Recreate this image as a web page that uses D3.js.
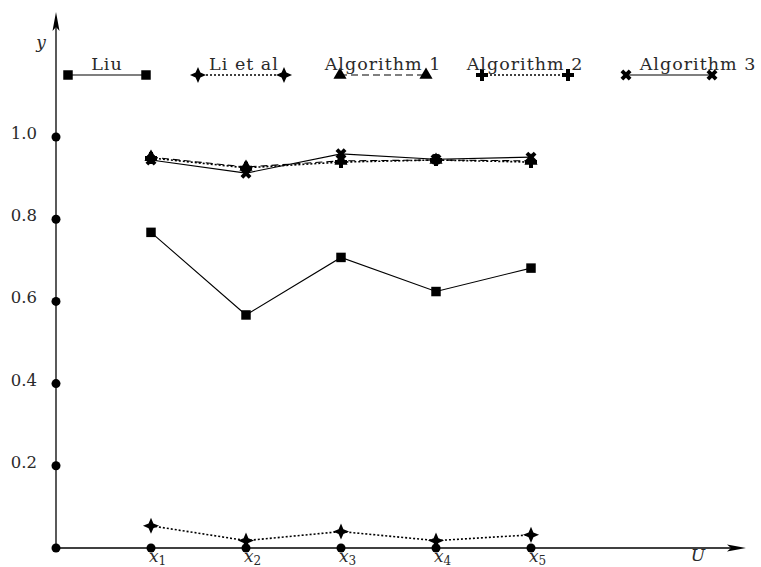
<!DOCTYPE html>
<html>
<head>
<meta charset="utf-8">
<script src="https://cdn.jsdelivr.net/npm/d3@7"></script>
<style>
  html, body { margin: 0; padding: 0; background: #fff; }
  svg { display: block; }
  text { font-family: "DejaVu Serif", "Liberation Serif", serif; fill: #2a2a2a; }
</style>
</head>
<body>
<svg id="chart" width="761" height="567"></svg>
<script>
// Series and labels
const categories = ["1", "2", "3", "4", "5"];          // subscripts of x_i
const yTickValues = [0.2, 0.4, 0.6, 0.8, 1.0];
const yTickLabels = ["0.2", "0.4", "0.6", "0.8", "1.0"];
const seriesNames = ["Liu", "Li et al", "Algorithm 1", "Algorithm 2", "Algorithm 3"];
const liu   = [0.768, 0.567, 0.707, 0.624, 0.681];
const liEtAl = [0.054, 0.018, 0.040, 0.018, 0.032];
const alg1  = [0.951, 0.927, 0.942, 0.944, 0.942];
const alg2  = [0.949, 0.925, 0.939, 0.944, 0.939];
const alg3  = [0.944, 0.912, 0.959, 0.946, 0.951];

const svg = d3.select("#chart");

const x = d3.scaleLinear().domain([0, 5]).range([56, 531]);
const y = d3.scaleLinear().domain([0, 1]).range([548, 137]);

// Four-pointed star
const star4 = {
  draw(ctx, size) {
    const r = Math.sqrt(size) * 0.75, q = r * 0.3;
    ctx.moveTo(0, -r);
    ctx.lineTo(q, -q); ctx.lineTo(r, 0); ctx.lineTo(q, q);
    ctx.lineTo(0, r); ctx.lineTo(-q, q); ctx.lineTo(-r, 0); ctx.lineTo(-q, -q);
    ctx.closePath();
  }
};

const styles = [
  { values: liu,    symbol: d3.symbolSquare,   size: 90,  rotate: 0,  dash: null,  },
  { values: liEtAl, symbol: star4,             size: 115, rotate: 0,  dash: "2,2" },
  { values: alg1,   symbol: d3.symbolTriangle, size: 75,  rotate: 0,  dash: "7,4" },
  { values: alg2,   symbol: d3.symbolCross,    size: 80,  rotate: 0,  dash: "2,2" },
  { values: alg3,   symbol: d3.symbolCross,    size: 75,  rotate: 45, dash: null  }
];

// Axes with arrowheads
const axisG = svg.append("g");
axisG.append("line").attr("x1", x(0)).attr("y1", y(0)).attr("x2", 740).attr("y2", y(0))
  .attr("stroke", "#000").attr("stroke-width", 1.3);
axisG.append("line").attr("x1", x(0)).attr("y1", y(0)).attr("x2", x(0)).attr("y2", 18)
  .attr("stroke", "#000").attr("stroke-width", 1.3);
axisG.append("path")
  .attr("d", `M746,${y(0)} L727,${y(0) - 3.5} L731,${y(0)} L727,${y(0) + 3.5} Z`)
  .attr("fill", "#000");
axisG.append("path")
  .attr("d", `M${x(0)},12 L${x(0) - 3.5},31 L${x(0)},27 L${x(0) + 3.5},31 Z`)
  .attr("fill", "#000");

// Axis tick dots
axisG.append("circle").attr("cx", x(0)).attr("cy", y(0)).attr("r", 4.5);
axisG.selectAll(".ydot").data(yTickValues).join("circle")
  .attr("cx", x(0)).attr("cy", d => y(d)).attr("r", 4.5);
axisG.selectAll(".xdot").data(categories).join("circle")
  .attr("cx", (d, i) => x(i + 1)).attr("cy", y(0)).attr("r", 4.5);

// Y tick labels
axisG.selectAll(".ylab").data(yTickValues).join("text")
  .attr("x", 37).attr("y", d => y(d) + 2)
  .attr("text-anchor", "end").attr("font-size", 16.5)
  .text((d, i) => yTickLabels[i]);

// X tick labels x_i
const xl = axisG.selectAll(".xlab").data(categories).join("text")
  .attr("x", (d, i) => x(i + 1) - 2).attr("y", 562)
  .attr("font-size", 17).attr("font-style", "italic");
xl.append("tspan").text("x");
xl.append("tspan").attr("font-size", 12).attr("font-style", "normal").attr("dy", 3).text(d => d);

// Axis names
axisG.append("text").attr("x", 41).attr("y", 48).attr("font-size", 17)
  .attr("font-style", "italic").attr("text-anchor", "middle").text("y");
axisG.append("text").attr("x", 698).attr("y", 561).attr("font-size", 17)
  .attr("font-style", "italic").attr("text-anchor", "middle").text("U");

// Series lines and markers
const line = d3.line().x((d, i) => x(i + 1)).y(d => y(d));
const plot = svg.append("g");
styles.forEach(s => {
  plot.append("path").attr("d", line(s.values)).attr("fill", "none")
    .attr("stroke", "#000").attr("stroke-width", s.dash === "2,2" ? 1.6 : 1.1)
    .attr("stroke-dasharray", s.dash);
});
styles.forEach(s => {
  const sym = d3.symbol().type(s.symbol).size(s.size);
  plot.selectAll(null).data(s.values).join("path")
    .attr("d", sym)
    .attr("transform", (d, i) => `translate(${x(i + 1)},${y(d)}) rotate(${s.rotate})`)
    .attr("fill", "#000");
});

// Legend
const legendY = 75;
const legendLeft = [68, 198, 340, 482, 626];
const legendWidth = 86;
const legendLabelShift = [0, 3, 0, 0, 29];
const lg = svg.append("g");
styles.forEach((s, k) => {
  const x0 = legendLeft[k], x1 = x0 + (k === 0 ? 78 : legendWidth);
  lg.append("line").attr("x1", x0).attr("y1", legendY).attr("x2", x1).attr("y2", legendY)
    .attr("stroke", "#000").attr("stroke-width", s.dash === "2,2" ? 1.6 : 1.1)
    .attr("stroke-dasharray", s.dash);
  const sym = d3.symbol().type(s.symbol).size(s.size);
  [x0, x1].forEach(px => {
    lg.append("path").attr("d", sym)
      .attr("transform", `translate(${px},${legendY}) rotate(${s.rotate})`)
      .attr("fill", "#000");
  });
  lg.append("text").attr("x", (x0 + x1) / 2 + legendLabelShift[k]).attr("y", 70)
    .attr("text-anchor", "middle").attr("font-size", 17.5)
    .attr("letter-spacing", 1).text(seriesNames[k]);
});
</script>
</body>
</html>
